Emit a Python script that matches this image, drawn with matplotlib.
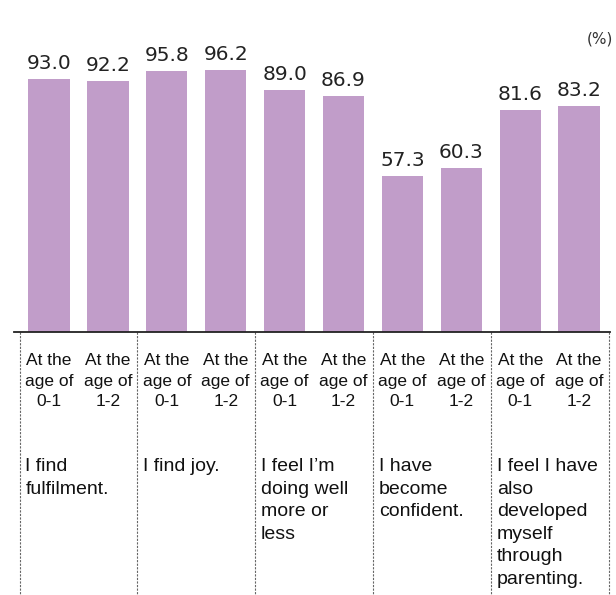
import matplotlib.pyplot as plt

# survey results (%)
categories = ["I find\nfulfilment.", "I find joy.", "I feel I\u2019m\ndoing well\nmore or\nless",
              "I have\nbecome\nconfident.", "I feel I have\nalso\ndeveloped\nmyself\nthrough\nparenting."]
age_labels = ["At the\nage of\n0-1", "At the\nage of\n1-2"]
age_0_1 = [93.0, 95.8, 89.0, 57.3, 81.6]
age_1_2 = [92.2, 96.2, 86.9, 60.3, 83.2]

bar_color = "#c19dc9"
W, H = 616, 595
base_px = 332          # pixel row of the baseline
unit_px = 2.72         # pixels per percent
pitch_px = 58.9
first_px = 49

def py(p):
    return (base_px - p) / unit_px

fig = plt.figure(figsize=(W / 100, H / 100), dpi=100)
ax = fig.add_axes([0, 0, 1, 1])
ax.set_xlim(-first_px / pitch_px, (W - first_px) / pitch_px)
ax.set_ylim(py(H), py(0))
ax.axis("off")

values = []
for a, b in zip(age_0_1, age_1_2):
    values += [a, b]
xs = list(range(len(values)))
ax.bar(xs, values, width=0.7, color=bar_color, zorder=2)

for x, v in zip(xs, values):
    ax.text(x, v + 2.2, f"{v:.1f}", ha="center", va="bottom", fontsize=14.5,
            family="DejaVu Sans", color="#222222")
    ax.text(x, py(353), age_labels[x % 2], ha="center", va="top", fontsize=12.5,
            family="Liberation Sans", linespacing=1.46, color="#111111")

# baseline and group separators
ax.plot([(14 - first_px) / pitch_px, (610 - first_px) / pitch_px], [0, 0],
        color="#222222", lw=1.3, zorder=3)
for g in range(len(categories) + 1):
    ax.plot([2 * g - 0.5, 2 * g - 0.5], [0, py(H)], color="#666666", lw=0.8,
            linestyle=(0, (2, 1.2)))

for g, cat in enumerate(categories):
    ax.text(2 * g - 0.5 + 0.1, py(458), cat, ha="left", va="top", fontsize=14,
            family="Liberation Sans", linespacing=1.43, color="#111111")

ax.text((613 - first_px) / pitch_px, py(39), "(%)", ha="right", va="center",
        fontsize=11, family="DejaVu Sans", color="#333333")

fig.savefig("out.png", dpi=100)
